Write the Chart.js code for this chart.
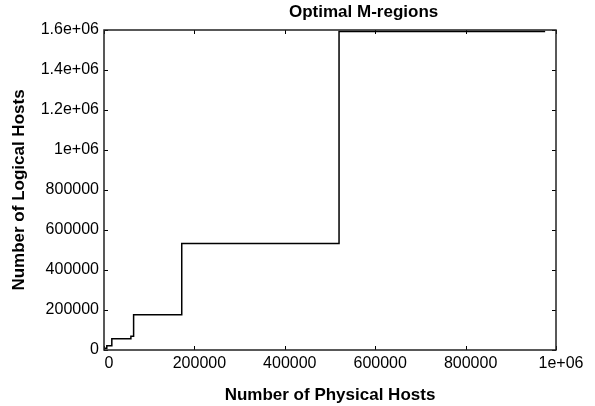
<!DOCTYPE html>
<html>
<head>
<meta charset="utf-8">
<script src="https://cdn.jsdelivr.net/npm/chart.js@4"></script>
<style>
  html, body { margin: 0; padding: 0; background: #fff; }
  #wrap { position: relative; width: 595px; height: 406px; }
  #title {
    position: absolute; left: 289px; top: 3px;
    font: bold 17px 'Liberation Sans', Arial, sans-serif; line-height: 17px;
    color: #000; white-space: nowrap;
  }
</style>
</head>
<body>
<div id="wrap">
  <canvas id="chart" width="595" height="406"></canvas>
  <div id="title">Optimal M-regions</div>
</div>
<script>
// step points (x = physical hosts, y = logical hosts)
const physHosts    = [0, 6200, 17300, 59500, 65500, 172000, 520000, 976000];
const logicalHosts = [9000, 21000, 56000, 69000, 176000, 532000, 1593000, 1593000];

const xTickLabels = ['0', '200000', '400000', '600000', '800000', '1e+06'];
const yTickLabels = ['0', '200000', '400000', '600000', '800000', '1e+06', '1.2e+06', '1.4e+06', '1.6e+06'];

const fontFam = "'Liberation Sans', Arial, sans-serif";
Chart.defaults.color = '#000';
Chart.defaults.font.family = fontFam;

// box around the plot + inward tick marks on all four sides
const frame = {
  id: 'frame',
  afterDatasetsDraw(chart) {
    const { ctx, chartArea: a, scales: { x, y } } = chart;
    const seg = (x1, y1, x2, y2) => { ctx.beginPath(); ctx.moveTo(x1, y1); ctx.lineTo(x2, y2); ctx.stroke(); };
    ctx.save();
    ctx.strokeStyle = '#000';
    ctx.lineWidth = 1;
    x.ticks.forEach(t => {
      const px = Math.round(x.getPixelForValue(t.value)) + 0.5;
      seg(px, a.bottom, px, a.bottom - 4);
      seg(px, a.top, px, a.top + 4);
    });
    y.ticks.forEach(t => {
      const py = Math.round(y.getPixelForValue(t.value)) + 0.5;
      seg(a.left, py, a.left + 4, py);
      seg(a.right, py, a.right - 4, py);
    });
    ctx.strokeStyle = '#222';
    ctx.lineWidth = 1.5;
    ctx.strokeRect(a.left, a.top, a.right - a.left, a.bottom - a.top);
    ctx.restore();
  }
};

new Chart(document.getElementById('chart'), {
  type: 'line',
  data: {
    datasets: [{
      data: physHosts.map((v, i) => ({ x: v, y: logicalHosts[i] })),
      stepped: 'before',   // horizontal first, then the jump
      borderColor: '#000',
      borderWidth: 1.5,
      pointRadius: 0,
      fill: false
    }]
  },
  options: {
    responsive: false,
    animation: false,
    layout: { padding: { top: 30, right: 39, left: 0, bottom: 0 } },
    plugins: { legend: { display: false }, tooltip: { enabled: false } },
    scales: {
      x: {
        type: 'linear', min: 0, max: 1000000,
        grid: { display: false, drawTicks: false }, border: { display: false },
        ticks: {
          stepSize: 200000, padding: 4, labelOffset: 5, maxRotation: 0,
          font: { size: 16 },
          callback: (v, i) => xTickLabels[i]
        },
        title: {
          display: true, text: 'Number of Physical Hosts',
          font: { size: 17, weight: 'bold' }, padding: { top: 0, bottom: 0 }
        },
        afterFit: s => { s.height = 56; }
      },
      y: {
        type: 'linear', min: 0, max: 1600000,
        grid: { display: false, drawTicks: false }, border: { display: false },
        ticks: {
          stepSize: 200000, padding: 5,
          font: { size: 16 },
          callback: (v, i) => yTickLabels[i]
        },
        title: {
          display: true, text: 'Number of Logical Hosts',
          font: { size: 17, weight: 'bold' }, padding: { top: 9, bottom: 0 }
        },
        afterFit: s => { s.width = 104; }
      }
    }
  },
  plugins: [frame]
});
</script>
</body>
</html>
